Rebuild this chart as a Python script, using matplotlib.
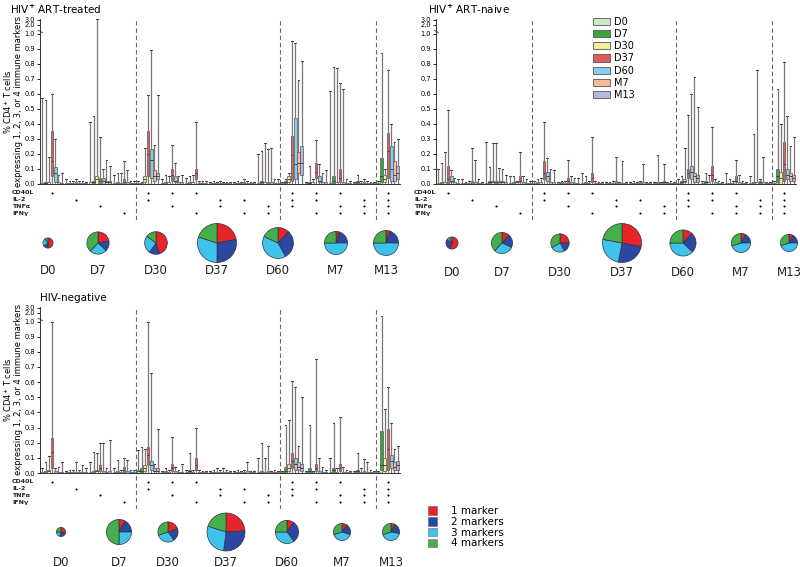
"""
Polyfunctional CD4+ T-cell responses (boxplots + pie charts), three cohorts.
Run: python plot.py -> out.png
"""

import numpy as np
import matplotlib
matplotlib.use("Agg")
import matplotlib.pyplot as plt
from matplotlib.patches import Patch
from matplotlib.ticker import NullLocator
import matplotlib.transforms as mtrans

W, H = 800, 567

# ── Data ──────────────────────────────────────────────────────
timepoints = ["D0", "D7", "D30", "D37", "D60", "M7", "M13"]
markers = ["CD40L", "IL-2", "TNFα", "IFNγ"]
combos = [
    (1, 0, 0, 0), (0, 1, 0, 0), (0, 0, 1, 0), (0, 0, 0, 1),
    (1, 1, 0, 0), (1, 0, 1, 0), (1, 0, 0, 1), (0, 1, 1, 0), (0, 1, 0, 1), (0, 0, 1, 1),
    (1, 1, 1, 0), (1, 1, 0, 1), (1, 0, 1, 1), (0, 1, 1, 1),
    (1, 1, 1, 1),
]

# HIV+ ART-treated: rows = marker combination, cols = timepoint
whi_treated = [
    [0.57, 0.56, 0.18, 0.60, 0.30, 0.06, 0.07],
    [0.03, 0.02, 0.02, 0.03, 0.02, 0.02, 0.01],
    [0.41, 0.45, 3.20, 0.31, 0.10, 0.16, 0.12],
    [0.06, 0.07, 0.07, 0.15, 0.09, 0.02, 0.02],
    [0.02, 0.01, 0.24, 0.59, 0.89, 0.26, 0.59],
    [0.03, 0.06, 0.05, 0.26, 0.14, 0.05, 0.06],
    [0.04, 0.05, 0.06, 0.41, 0.02, 0.02, 0.02],
    [0.01, 0.02, 0.01, 0.02, 0.01, 0.01, 0.01],
    [0.01, 0.02, 0.01, 0.03, 0.02, 0.01, 0.01],
    [0.20, 0.22, 0.27, 0.23, 0.24, 0.035, 0.035],
    [0.01, 0.03, 0.07, 0.95, 0.94, 0.69, 0.82],
    [0.01, 0.12, 0.03, 0.29, 0.13, 0.07, 0.09],
    [0.62, 0.78, 0.77, 0.67, 0.63, 0.03, 0.02],
    [0.01, 0.06, 0.02, 0.03, 0.02, 0.01, 0.01],
    [0.02, 0.87, 0.10, 0.76, 0.40, 0.28, 0.30],
]
q3_treated = [
    [0.005, 0.01, 0.01, 0.35, 0.11, 0.01, 0.005],
    [0.005, 0.005, 0.005, 0.01, 0.005, 0.005, 0.005],
    [0.01, 0.02, 0.05, 0.04, 0.04, 0.02, 0.02],
    [0.005, 0.01, 0.005, 0.03, 0.01, 0.005, 0.005],
    [0.005, 0.005, 0.05, 0.35, 0.23, 0.09, 0.07],
    [0.005, 0.01, 0.01, 0.10, 0.05, 0.01, 0.01],
    [0.005, 0.01, 0.01, 0.10, 0.005, 0.005, 0.005],
    [0.005, 0.005, 0.005, 0.005, 0.005, 0.005, 0.005],
    [0.005, 0.005, 0.005, 0.01, 0.005, 0.005, 0.005],
    [0.005, 0.02, 0.01, 0.01, 0.01, 0.005, 0.005],
    [0.005, 0.02, 0.05, 0.32, 0.44, 0.21, 0.25],
    [0.005, 0.015, 0.01, 0.14, 0.05, 0.01, 0.01],
    [0.005, 0.05, 0.01, 0.10, 0.01, 0.005, 0.005],
    [0.005, 0.02, 0.005, 0.01, 0.005, 0.005, 0.005],
    [0.005, 0.17, 0.06, 0.34, 0.25, 0.15, 0.12],
]
med_treated = [
    [0, 0.005, 0, 0.15, 0.07, 0, 0],
    [0, 0, 0, 0, 0, 0, 0],
    [0, 0.01, 0.03, 0.02, 0.02, 0.01, 0.01],
    [0, 0, 0, 0.01, 0, 0, 0],
    [0, 0, 0.03, 0.20, 0.16, 0.05, 0.05],
    [0, 0, 0, 0.06, 0.02, 0, 0],
    [0, 0, 0, 0.07, 0, 0, 0],
    [0, 0, 0, 0, 0, 0, 0],
    [0, 0, 0, 0, 0, 0, 0],
    [0, 0.01, 0, 0, 0, 0, 0],
    [0, 0.01, 0.03, 0.19, 0.13, 0.14, 0.14],
    [0, 0.005, 0, 0.08, 0.02, 0, 0],
    [0, 0.02, 0, 0.04, 0, 0, 0],
    [0, 0.01, 0, 0, 0, 0, 0],
    [0, 0.05, 0.03, 0.22, 0.10, 0.06, 0.07],
]
q1_treated = [
    [0, 0, 0, 0.05, 0.01, 0, 0],
    [0, 0, 0, 0, 0, 0, 0],
    [0, 0, 0, 0, 0, 0, 0],
    [0, 0, 0, 0, 0, 0, 0],
    [0, 0, 0.01, 0.05, 0.04, 0.02, 0.03],
    [0, 0, 0, 0.02, 0.01, 0, 0],
    [0, 0, 0, 0.03, 0, 0, 0],
    [0, 0, 0, 0, 0, 0, 0],
    [0, 0, 0, 0, 0, 0, 0],
    [0, 0, 0, 0, 0, 0, 0],
    [0, 0, 0.01, 0.02, 0.03, 0.07, 0.06],
    [0, 0, 0, 0.04, 0.01, 0, 0],
    [0, 0, 0, 0.01, 0, 0, 0],
    [0, 0, 0, 0, 0, 0, 0],
    [0, 0.01, 0.01, 0.04, 0.02, 0.02, 0.03],
]

# HIV+ ART-naive
whi_naive = [
    [0.10, 0.14, 0.21, 0.49, 0.09, 0.04, 0.03],
    [0.03, 0.01, 0.02, 0.24, 0.16, 0.03, 0.01],
    [0.28, 0.11, 0.27, 0.27, 0.105, 0.10, 0.06],
    [0.05, 0.05, 0.02, 0.21, 0.05, 0.03, 0.02],
    [0.02, 0.03, 0.04, 0.41, 0.17, 0.10, 0.095],
    [0.01, 0.02, 0.02, 0.16, 0.05, 0.04, 0.04],
    [0.07, 0.05, 0.02, 0.31, 0.02, 0.01, 0.01],
    [0.01, 0.01, 0.02, 0.18, 0.01, 0.155, 0.01],
    [0.01, 0.02, 0.01, 0.02, 0.135, 0.01, 0.01],
    [0.01, 0.195, 0.01, 0.13, 0.01, 0.02, 0.01],
    [0.03, 0.05, 0.24, 0.46, 0.60, 0.71, 0.51],
    [0.02, 0.07, 0.06, 0.38, 0.03, 0.02, 0.01],
    [0.07, 0.03, 0.02, 0.16, 0.06, 0.02, 0.01],
    [0.055, 0.33, 0.76, 0.03, 0.18, 0.01, 0.01],
    [0.02, 0.63, 0.40, 0.81, 0.45, 0.25, 0.31],
]
q3_naive = [
    [0.005, 0.01, 0.01, 0.12, 0.05, 0.01, 0.005],
    [0.005, 0.005, 0.005, 0.02, 0.01, 0.005, 0.005],
    [0.005, 0.02, 0.02, 0.02, 0.02, 0.02, 0.01],
    [0.005, 0.01, 0.02, 0.05, 0.01, 0.005, 0.005],
    [0.005, 0.01, 0.01, 0.15, 0.08, 0.01, 0.01],
    [0.005, 0.01, 0.005, 0.04, 0.01, 0.005, 0.005],
    [0.005, 0.01, 0.005, 0.07, 0.005, 0.005, 0.005],
    [0.005, 0.005, 0.005, 0.02, 0.005, 0.005, 0.005],
    [0.005, 0.005, 0.005, 0.01, 0.01, 0.005, 0.005],
    [0.005, 0.01, 0.005, 0.02, 0.005, 0.005, 0.005],
    [0.005, 0.02, 0.03, 0.10, 0.12, 0.07, 0.06],
    [0.005, 0.02, 0.01, 0.12, 0.01, 0.005, 0.005],
    [0.005, 0.005, 0.005, 0.05, 0.01, 0.005, 0.005],
    [0.005, 0.01, 0.01, 0.02, 0.01, 0.005, 0.005],
    [0.005, 0.10, 0.08, 0.28, 0.10, 0.07, 0.06],
]
med_naive = [
    [0, 0, 0, 0.03, 0.02, 0, 0],
    [0, 0, 0, 0, 0, 0, 0],
    [0, 0.01, 0.01, 0.01, 0.01, 0.01, 0],
    [0, 0, 0.01, 0.02, 0, 0, 0],
    [0, 0, 0, 0.07, 0.05, 0, 0],
    [0, 0, 0, 0.02, 0, 0, 0],
    [0, 0, 0, 0.04, 0, 0, 0],
    [0, 0, 0, 0, 0, 0, 0],
    [0, 0, 0, 0, 0, 0, 0],
    [0, 0, 0, 0.01, 0, 0, 0],
    [0, 0.01, 0.02, 0.07, 0.08, 0.05, 0.04],
    [0, 0.01, 0, 0.06, 0, 0, 0],
    [0, 0, 0, 0.02, 0, 0, 0],
    [0, 0, 0, 0.01, 0, 0, 0],
    [0, 0.05, 0.04, 0.13, 0.06, 0.05, 0.04],
]
q1_naive = [
    [0, 0, 0, 0, 0.01, 0, 0],
    [0, 0, 0, 0, 0, 0, 0],
    [0, 0, 0, 0, 0, 0, 0],
    [0, 0, 0, 0.01, 0, 0, 0],
    [0, 0, 0, 0.03, 0.02, 0, 0],
    [0, 0, 0, 0, 0, 0, 0],
    [0, 0, 0, 0.01, 0, 0, 0],
    [0, 0, 0, 0, 0, 0, 0],
    [0, 0, 0, 0, 0, 0, 0],
    [0, 0, 0, 0, 0, 0, 0],
    [0, 0, 0.01, 0.04, 0.03, 0.01, 0.01],
    [0, 0, 0, 0.02, 0, 0, 0],
    [0, 0, 0, 0.01, 0, 0, 0],
    [0, 0, 0, 0, 0, 0, 0],
    [0, 0.01, 0, 0.02, 0.03, 0.02, 0.02],
]

# HIV-negative
whi_neg = [
    [0.03, 0.07, 0.11, 1.00, 0.03, 0.04, 0.07],
    [0.01, 0.02, 0.02, 0.07, 0.02, 0.05, 0.03],
    [0.07, 0.14, 0.13, 0.20, 0.20, 0.03, 0.22],
    [0.03, 0.085, 0.02, 0.10, 0.085, 0.02, 0.02],
    [0.15, 0.17, 0.16, 1.00, 0.66, 0.06, 0.29],
    [0.01, 0.03, 0.02, 0.24, 0.04, 0.02, 0.06],
    [0.02, 0.13, 0.02, 0.30, 0.02, 0.01, 0.01],
    [0.01, 0.02, 0.03, 0.02, 0.03, 0.02, 0.01],
    [0.01, 0.02, 0.01, 0.02, 0.075, 0.01, 0.01],
    [0.10, 0.20, 0.10, 0.18, 0.01, 0.02, 0.01],
    [0.01, 0.32, 0.35, 0.61, 0.57, 0.18, 0.50],
    [0.01, 0.32, 0.01, 0.75, 0.10, 0.04, 0.02],
    [0.10, 0.33, 0.03, 0.37, 0.04, 0.02, 0.01],
    [0.01, 0.13, 0.03, 0.09, 0.07, 0.02, 0.01],
    [0.01, 1.60, 0.42, 0.57, 0.33, 0.16, 0.18],
]
q3_neg = [
    [0.005, 0.01, 0.02, 0.23, 0.01, 0.005, 0.005],
    [0.005, 0.005, 0.005, 0.005, 0.005, 0.005, 0.005],
    [0.005, 0.01, 0.02, 0.05, 0.01, 0.005, 0.01],
    [0.005, 0.01, 0.005, 0.04, 0.01, 0.005, 0.005],
    [0.02, 0.03, 0.05, 0.17, 0.08, 0.03, 0.03],
    [0.005, 0.01, 0.005, 0.06, 0.01, 0.005, 0.005],
    [0.005, 0.02, 0.005, 0.10, 0.005, 0.005, 0.005],
    [0.005, 0.005, 0.005, 0.005, 0.005, 0.005, 0.005],
    [0.005, 0.005, 0.005, 0.005, 0.01, 0.005, 0.005],
    [0.005, 0.01, 0.005, 0.01, 0.005, 0.005, 0.005],
    [0.005, 0.04, 0.06, 0.13, 0.10, 0.07, 0.06],
    [0.005, 0.03, 0.005, 0.06, 0.01, 0.005, 0.005],
    [0.005, 0.03, 0.005, 0.06, 0.005, 0.005, 0.005],
    [0.005, 0.02, 0.005, 0.01, 0.005, 0.005, 0.005],
    [0.005, 0.28, 0.10, 0.29, 0.12, 0.07, 0.08],
]
med_neg = [
    [0, 0, 0.01, 0.14, 0, 0, 0],
    [0, 0, 0, 0, 0, 0, 0],
    [0, 0, 0.01, 0.03, 0, 0, 0],
    [0, 0, 0, 0.02, 0, 0, 0],
    [0.01, 0.01, 0.03, 0.12, 0.05, 0.01, 0.01],
    [0, 0, 0, 0.03, 0, 0, 0],
    [0, 0.01, 0, 0.05, 0, 0, 0],
    [0, 0, 0, 0, 0, 0, 0],
    [0, 0, 0, 0, 0, 0, 0],
    [0, 0, 0, 0, 0, 0, 0],
    [0, 0.01, 0.03, 0.08, 0.06, 0.04, 0.03],
    [0, 0.01, 0, 0.03, 0, 0, 0],
    [0, 0.02, 0, 0.03, 0, 0, 0],
    [0, 0.01, 0, 0, 0, 0, 0],
    [0, 0.05, 0.05, 0.16, 0.08, 0.04, 0.05],
]
q1_neg = [
    [0, 0, 0, 0.03, 0, 0, 0],
    [0, 0, 0, 0, 0, 0, 0],
    [0, 0, 0, 0.01, 0, 0, 0],
    [0, 0, 0, 0, 0, 0, 0],
    [0, 0, 0.01, 0.05, 0.02, 0.01, 0],
    [0, 0, 0, 0.01, 0, 0, 0],
    [0, 0, 0, 0.02, 0, 0, 0],
    [0, 0, 0, 0, 0, 0, 0],
    [0, 0, 0, 0, 0, 0, 0],
    [0, 0, 0, 0, 0, 0, 0],
    [0, 0, 0.01, 0.03, 0.02, 0.02, 0.01],
    [0, 0, 0, 0.01, 0, 0, 0],
    [0, 0, 0, 0.01, 0, 0, 0],
    [0, 0, 0, 0, 0, 0, 0],
    [0, 0.02, 0.01, 0.02, 0.03, 0.02, 0.02],
]

# pie charts: fraction of response with 1/2/3/4 markers, and relative total
pie_labels = ["1 marker", "2 markers", "3 markers", "4 markers"]
pie_treated = [
    [0.50, 0.15, 0.25, 0.10], [0.22, 0.15, 0.25, 0.38], [0.45, 0.15, 0.25, 0.15],
    [0.22, 0.28, 0.30, 0.20], [0.12, 0.30, 0.40, 0.18], [0.05, 0.20, 0.50, 0.25],
    [0.05, 0.20, 0.50, 0.25],
]
pie_total_treated = [0.26, 0.57, 0.58, 1.00, 0.79, 0.59, 0.64]
pie_naive = [
    [0.55, 0.30, 0.08, 0.07], [0.12, 0.20, 0.30, 0.38], [0.25, 0.17, 0.25, 0.33],
    [0.28, 0.25, 0.25, 0.22], [0.12, 0.25, 0.38, 0.25], [0.08, 0.17, 0.45, 0.30],
    [0.08, 0.17, 0.45, 0.30],
]
pie_total_naive = [0.31, 0.54, 0.47, 1.00, 0.67, 0.49, 0.44]
pie_neg = [
    [0.30, 0.25, 0.20, 0.25], [0.08, 0.17, 0.25, 0.50], [0.20, 0.20, 0.30, 0.30],
    [0.24, 0.28, 0.28, 0.20], [0.10, 0.30, 0.35, 0.25], [0.10, 0.20, 0.40, 0.30],
    [0.08, 0.20, 0.42, 0.30],
]
pie_total_neg = [0.24, 0.66, 0.53, 1.00, 0.61, 0.45, 0.45]

# ── Styling ───────────────────────────────────────────────────
box_colors = ["#cfe8c6", "#3aa540", "#f4ee9c", "#e05a5c", "#86d0ee", "#f6b99c", "#bab6e0"]
pie_colors = ["#e8232a", "#2b47a3", "#3ec3ef", "#45b04b"]
EDGE = "#555555"
BRK = 0.09


def fwd(y):
    y = np.asarray(y, dtype=float)
    return np.where(y <= 1, y, 1 + BRK * np.log(np.maximum(y, 1)) / np.log(3))


def inv(t):
    t = np.asarray(t, dtype=float)
    return np.where(t <= 1, t, np.exp((np.maximum(t, 1) - 1) * np.log(3) / BRK))


def px_rect(l, t, r, b):
    return [l / W, 1 - b / H, (r - l) / W, (b - t) / H]


YMAX = 3.3
SEPS = [3.5, 9.5, 13.5]


def draw_boxes(ax, whi, q3, med, q1):
    whi, q3, med, q1 = map(np.asarray, (whi, q3, med, q1))
    for j in range(len(timepoints)):
        stats = []
        for g in range(len(combos)):
            stats.append(dict(whislo=0.0, q1=q1[g, j], med=med[g, j],
                              q3=q3[g, j], whishi=whi[g, j], fliers=[]))
        pos = np.arange(len(combos)) + (j - 3) * 0.135
        art = ax.bxp(stats, positions=pos, widths=0.115, patch_artist=True,
                     showfliers=False, capwidths=0.08, manage_ticks=False,
                     boxprops=dict(edgecolor=EDGE, linewidth=0.5),
                     whiskerprops=dict(color="#7d7575", linewidth=0.9),
                     capprops=dict(color="#444444", linewidth=0.7),
                     medianprops=dict(color="#333333", linewidth=0.6))
        for b in art["boxes"]:
            b.set_facecolor(box_colors[j])


def setup_main(ax, ylabel=False):
    ax.set_yscale("function", functions=(fwd, inv))
    ax.set_ylim(0, YMAX)
    ax.set_xlim(-0.5, 14.5)
    ticks = [0, 0.1, 0.2, 0.3, 0.4, 0.5, 0.6, 0.7, 0.8, 0.9, 1.0, 2.0, 3.0]
    ax.set_yticks(ticks)
    ax.set_yticklabels([f"{t:.1f}" for t in ticks], fontsize=4.8)
    ax.yaxis.set_minor_locator(NullLocator())
    ax.set_xticks([])
    ax.tick_params(axis="y", length=2, width=0.6, pad=1.5)
    for s in ["top", "right"]:
        ax.spines[s].set_visible(False)
    for s in ["left", "bottom"]:
        ax.spines[s].set_linewidth(0.7)
        ax.spines[s].set_color("#333333")
    ax.patch.set_alpha(0)
    for x in SEPS:
        ax.axvline(x, color="#666666", ls=(0, (4, 2.5)), lw=0.8, zorder=0)
    # small break mark on the axis between 1.0 and 2.0
    ax.plot([-0.5], [1.2], marker=(2, 0, 60), ms=4, color="#333333", mew=0.6,
            clip_on=False, zorder=5)
    if ylabel:
        ax.set_ylabel("% CD4$^{+}$ T cells\nexpressing 1, 2, 3, or 4 immune markers",
                      fontsize=6, linespacing=1.1)
        ax.yaxis.set_label_coords(-0.046, 0.5)


def draw_dots(ax, label_x):
    for g, c in enumerate(combos):
        ys = [r for r in range(4) if c[r]]
        ax.scatter([g] * len(ys), ys, s=2.2, color="black", lw=0, zorder=3)
    ax.set_xlim(-0.5, 14.5)
    ax.set_ylim(4, -1)
    ax.axis("off")
    for x in SEPS:
        ax.axvline(x, color="#666666", ls=(0, (4, 2.5)), lw=0.8, zorder=0)
    tr = mtrans.blended_transform_factory(plt.gcf().transFigure, ax.transData)
    for r, name in enumerate(markers):
        ax.text(label_x / W, r, name, transform=tr, fontsize=4.5, va="center",
                ha="left", fontweight="bold", color="#222222")


def draw_pies(ax, fracs, totals, xs, cy, rmax, lab_y):
    for f, tot, x in zip(fracs, totals, xs):
        ax.pie(f, colors=pie_colors, radius=rmax * tot, center=(x, H - cy),
               startangle=90, counterclock=False, frame=True,
               wedgeprops=dict(edgecolor="#333333", linewidth=0.5))
    for lab, x in zip(timepoints, xs):
        ax.text(x, H - lab_y, lab, fontsize=8.5, ha="center", va="center", color="#222222")


# ── Figure ────────────────────────────────────────────────────
fig = plt.figure(figsize=(W / 100, H / 100), dpi=100)

over = fig.add_axes([0, 0, 1, 1])

draw_pies(over, pie_treated, pie_total_treated, [48, 98, 156, 217, 278, 336, 386], 243, 19.5, 271)
draw_pies(over, pie_naive, pie_total_naive, [452, 502, 560, 622, 683, 741, 789], 243, 19.5, 273)
draw_pies(over, pie_neg, pie_total_neg, [61, 119, 168, 226, 287, 342, 391], 532, 19.0, 562)
over.set_xlim(0, W)
over.set_ylim(0, H)
over.axis("off")

over.text(10, H - 9, "HIV$^{\\mathbf{+}}$ ART-treated", fontsize=7.5, ha="left", va="center")
over.text(428, H - 9, "HIV$^{\\mathbf{+}}$ ART-naive", fontsize=7.5, ha="left", va="center")
over.text(40, H - 298, "HIV-negative", fontsize=7.5, ha="left", va="center")

top_h = 150.5 * float(fwd(YMAX))
ax1 = fig.add_axes(px_rect(40, 184 - top_h, 400, 184))
draw_boxes(ax1, whi_treated, q3_treated, med_treated, q1_treated)
setup_main(ax1, ylabel=True)

ax2 = fig.add_axes(px_rect(436, 184 - top_h, 796, 184))
draw_boxes(ax2, whi_naive, q3_naive, med_naive, q1_naive)
setup_main(ax2)

ax3 = fig.add_axes(px_rect(40, 473 - 151.5 * float(fwd(YMAX)), 400, 473))
draw_boxes(ax3, whi_neg, q3_neg, med_neg, q1_neg)
setup_main(ax3, ylabel=True)

d1 = fig.add_axes(px_rect(40, 186, 400, 220))
draw_dots(d1, 12)
d2 = fig.add_axes(px_rect(436, 186, 796, 220))
draw_dots(d2, 414)
d3 = fig.add_axes(px_rect(40, 475, 400, 509))
draw_dots(d3, 12)

box_handles = [Patch(facecolor=c, edgecolor=EDGE, linewidth=0.6) for c in box_colors]
fig.legend(box_handles, timepoints, loc="upper left", bbox_to_anchor=(593 / W, 1 - 17 / H),
           frameon=False, fontsize=7, handlelength=1.7, handleheight=0.75,
           labelspacing=0.22, handletextpad=0.5, borderpad=0, borderaxespad=0)

pie_handles = [Patch(facecolor=c, edgecolor="#666666", linewidth=0.4) for c in pie_colors]
fig.legend(pie_handles, pie_labels, loc="upper left", bbox_to_anchor=(428 / W, 1 - 506 / H),
           frameon=False, fontsize=7.5, handlelength=0.9, handleheight=0.9,
           labelspacing=0.08, handletextpad=1.3, borderpad=0, borderaxespad=0)

fig.savefig("out.png", dpi=100)
